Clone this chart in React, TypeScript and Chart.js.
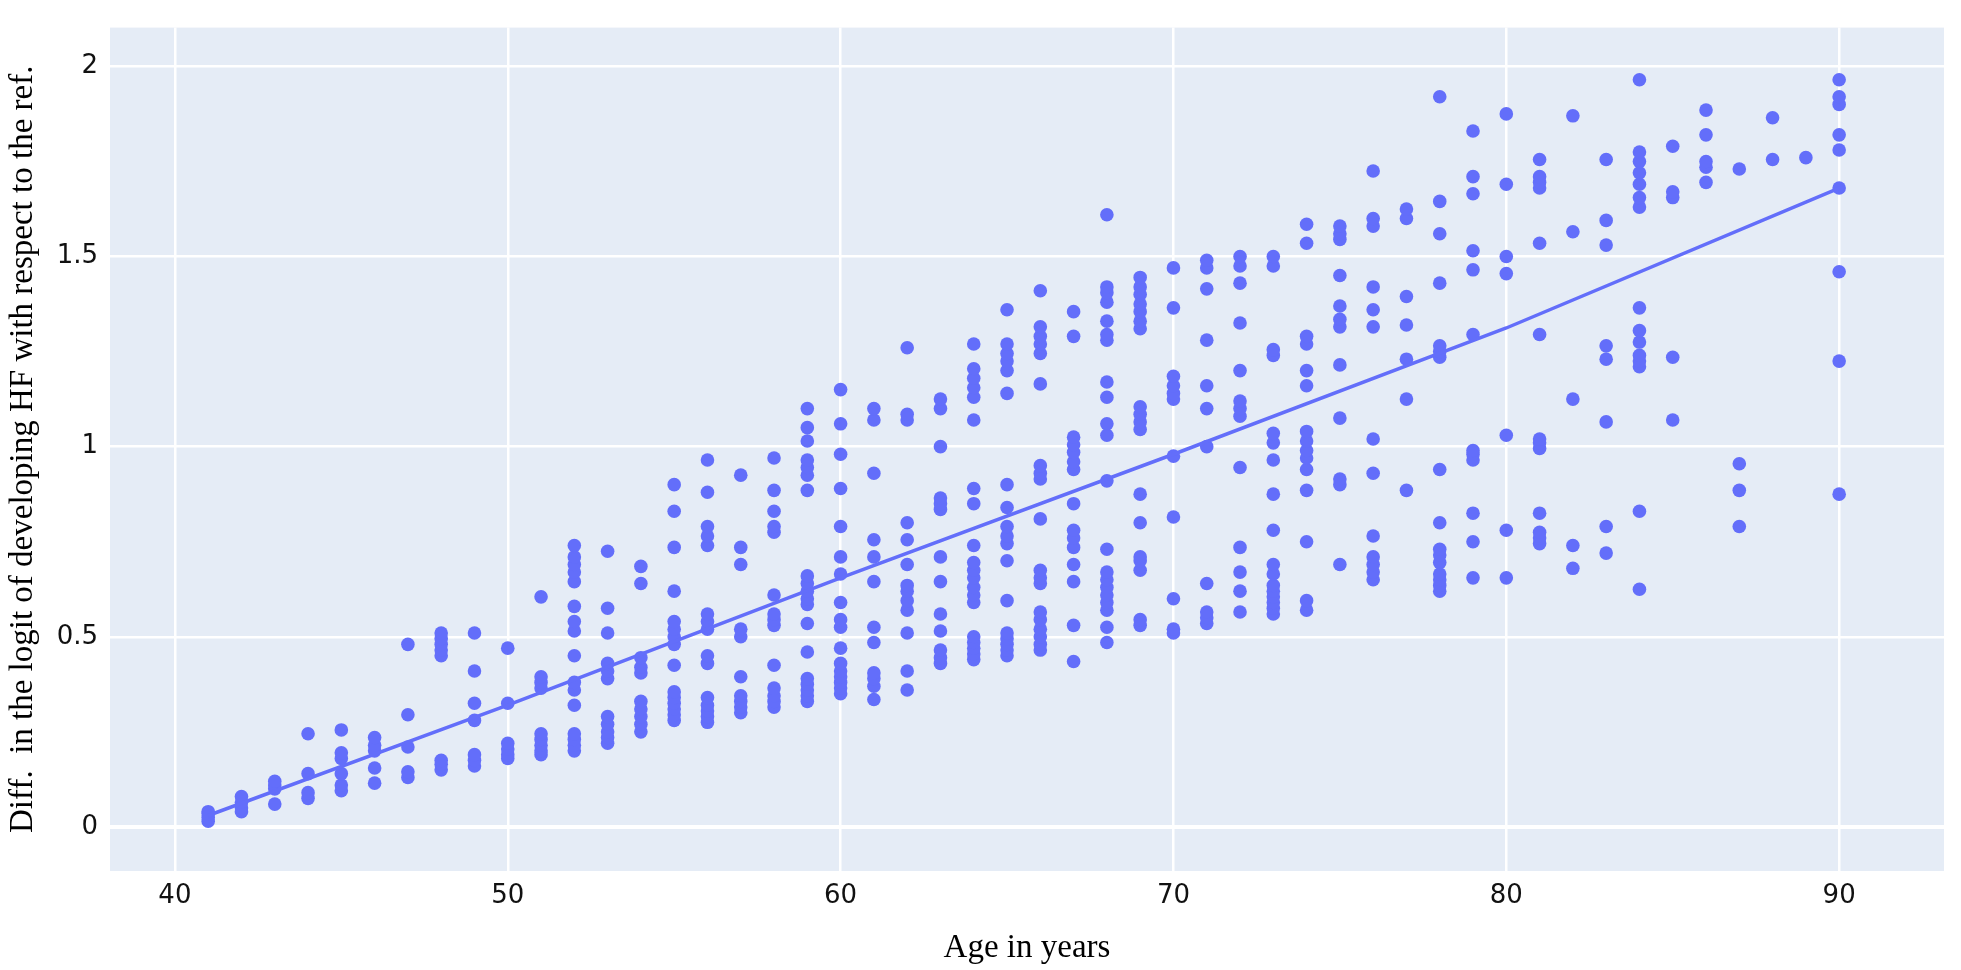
import React, { useEffect, useRef } from "react";
import { Chart, registerables } from "chart.js";

Chart.register(...registerables);

const ages: number[] = [
  41, 42, 43, 44, 45, 46, 47, 48, 49, 50, 51, 52, 53, 54, 55, 56, 57, 58, 59, 60, 61, 62, 63, 64, 65,
  66, 67, 68, 69, 70, 71, 72, 73, 74, 75, 76, 77, 78, 79, 80, 81, 82, 83, 84, 85, 86, 87, 88, 89, 90,
];

const valuesByAge: number[][] = [
  [0.015, 0.025, 0.035, 0.04],
  [0.04, 0.05, 0.065, 0.08],
  [0.06, 0.1, 0.11, 0.12],
  [0.075, 0.09, 0.14, 0.245],
  [0.095, 0.11, 0.14, 0.18, 0.195, 0.255],
  [0.115, 0.155, 0.2, 0.215, 0.235],
  [0.13, 0.145, 0.21, 0.295, 0.48],
  [0.15, 0.165, 0.175, 0.45, 0.465, 0.48, 0.495, 0.51],
  [0.16, 0.175, 0.19, 0.28, 0.325, 0.41, 0.51],
  [0.18, 0.19, 0.205, 0.22, 0.325, 0.47],
  [0.19, 0.2, 0.215, 0.23, 0.245, 0.365, 0.38, 0.395, 0.605],
  [0.2, 0.215, 0.23, 0.245, 0.32, 0.36, 0.38, 0.45, 0.515, 0.54, 0.58, 0.645, 0.67, 0.69, 0.71, 0.74],
  [0.22, 0.235, 0.25, 0.27, 0.29, 0.39, 0.41, 0.43, 0.51, 0.575, 0.725],
  [0.25, 0.27, 0.29, 0.31, 0.33, 0.405, 0.42, 0.445, 0.64, 0.685],
  [0.28, 0.295, 0.31, 0.325, 0.34, 0.355, 0.425, 0.48, 0.5, 0.52, 0.54, 0.62, 0.735, 0.83, 0.9],
  [0.275, 0.29, 0.305, 0.32, 0.34, 0.43, 0.45, 0.52, 0.54, 0.56, 0.74, 0.765, 0.79, 0.88, 0.965],
  [0.3, 0.315, 0.33, 0.345, 0.395, 0.5, 0.52, 0.69, 0.735, 0.925],
  [0.315, 0.33, 0.345, 0.365, 0.425, 0.53, 0.545, 0.56, 0.61, 0.775, 0.79, 0.83, 0.885, 0.97],
  [0.33, 0.345, 0.36, 0.375, 0.39, 0.46, 0.535, 0.585, 0.6, 0.62, 0.64, 0.66, 0.885, 0.925, 0.945, 0.965, 1.015, 1.05, 1.1],
  [0.35, 0.365, 0.38, 0.395, 0.41, 0.43, 0.47, 0.525, 0.545, 0.59, 0.665, 0.71, 0.79, 0.89, 0.98, 1.06, 1.15],
  [0.335, 0.37, 0.39, 0.405, 0.485, 0.525, 0.645, 0.71, 0.755, 0.93, 1.07, 1.1],
  [0.36, 0.41, 0.51, 0.57, 0.595, 0.62, 0.635, 0.69, 0.755, 0.8, 1.07, 1.085, 1.26],
  [0.43, 0.445, 0.465, 0.515, 0.56, 0.645, 0.71, 0.835, 0.85, 0.865, 1.0, 1.1, 1.125],
  [0.44, 0.455, 0.47, 0.485, 0.5, 0.59, 0.61, 0.63, 0.655, 0.675, 0.695, 0.74, 0.85, 0.89, 1.07, 1.13, 1.155, 1.18, 1.205, 1.27],
  [0.45, 0.465, 0.48, 0.495, 0.51, 0.595, 0.7, 0.745, 0.765, 0.79, 0.84, 0.9, 1.14, 1.2, 1.225, 1.245, 1.27, 1.36],
  [0.465, 0.48, 0.5, 0.52, 0.545, 0.565, 0.64, 0.655, 0.675, 0.81, 0.915, 0.93, 0.95, 1.165, 1.245, 1.27, 1.29, 1.315, 1.41],
  [0.435, 0.53, 0.645, 0.69, 0.735, 0.76, 0.78, 0.85, 0.94, 0.96, 0.985, 1.005, 1.025, 1.29, 1.355],
  [0.485, 0.525, 0.57, 0.59, 0.61, 0.63, 0.65, 0.67, 0.73, 0.91, 1.03, 1.06, 1.13, 1.17, 1.28, 1.295, 1.33, 1.38, 1.405, 1.42, 1.61],
  [0.53, 0.545, 0.675, 0.7, 0.71, 0.8, 0.875, 1.045, 1.065, 1.085, 1.105, 1.31, 1.33, 1.355, 1.375, 1.4, 1.42, 1.445],
  [0.51, 0.52, 0.6, 0.815, 0.975, 1.125, 1.14, 1.16, 1.185, 1.365, 1.47],
  [0.535, 0.55, 0.565, 0.64, 1.0, 1.1, 1.16, 1.28, 1.415, 1.47, 1.49],
  [0.565, 0.62, 0.67, 0.735, 0.945, 1.08, 1.1, 1.12, 1.2, 1.325, 1.43, 1.475, 1.5],
  [0.56, 0.575, 0.59, 0.605, 0.62, 0.635, 0.665, 0.69, 0.78, 0.875, 0.965, 1.01, 1.035, 1.24, 1.255, 1.475, 1.5],
  [0.57, 0.595, 0.75, 0.885, 0.94, 0.97, 0.99, 1.015, 1.04, 1.16, 1.2, 1.27, 1.29, 1.535, 1.585],
  [0.69, 0.9, 0.915, 1.075, 1.215, 1.315, 1.335, 1.37, 1.45, 1.545, 1.56, 1.58],
  [0.65, 0.67, 0.69, 0.71, 0.765, 0.93, 1.02, 1.315, 1.36, 1.42, 1.58, 1.6, 1.725],
  [0.885, 1.125, 1.23, 1.32, 1.395, 1.6, 1.625],
  [0.62, 0.635, 0.65, 0.665, 0.695, 0.715, 0.73, 0.8, 0.94, 1.235, 1.25, 1.265, 1.43, 1.56, 1.645, 1.92],
  [0.655, 0.75, 0.825, 0.965, 0.98, 0.99, 1.295, 1.465, 1.515, 1.665, 1.71, 1.83],
  [0.655, 0.78, 1.03, 1.455, 1.5, 1.69, 1.875],
  [0.745, 0.76, 0.775, 0.825, 0.995, 1.01, 1.02, 1.295, 1.535, 1.68, 1.695, 1.71, 1.755],
  [0.68, 0.74, 1.125, 1.565, 1.87],
  [0.72, 0.79, 1.065, 1.23, 1.265, 1.53, 1.595, 1.755],
  [0.625, 0.83, 1.21, 1.225, 1.24, 1.275, 1.305, 1.365, 1.63, 1.655, 1.69, 1.72, 1.75, 1.775, 1.965],
  [1.07, 1.235, 1.655, 1.67, 1.79],
  [1.695, 1.735, 1.75, 1.82, 1.885],
  [0.79, 0.885, 0.955, 1.73],
  [1.755, 1.865],
  [1.76],
  [0.875, 1.225, 1.46, 1.68, 1.78, 1.82, 1.9, 1.92, 1.965],
];

const trendAges: number[] = [41, 50, 60, 70, 80, 90];
const trendValues: number[] = [0.03, 0.32, 0.655, 0.98, 1.312, 1.68];

const xTicks: number[] = [40, 50, 60, 70, 80, 90];
const yTicks: number[] = [0, 0.5, 1, 1.5, 2];

const xTitle = "Age in years";
const yTitle = "Diff.  in the logit of developing HF with respect to the ref.";

const MARKER = "#636EFA";

export default function App() {
  const canvasRef = useRef<HTMLCanvasElement | null>(null);

  useEffect(() => {
    if (!canvasRef.current) return;

    const scatterData: { x: number; y: number }[] = [];
    ages.forEach((a, i) => {
      valuesByAge[i].forEach((v) => scatterData.push({ x: a, y: v }));
    });
    const trendData = trendAges.map((a, i) => ({ x: a, y: trendValues[i] }));

    const bgPlugin = {
      id: "plotBg",
      beforeDraw(chart: any) {
        const { ctx, chartArea } = chart;
        if (!chartArea) return;
        ctx.save();
        ctx.fillStyle = "#E5ECF6";
        ctx.fillRect(chartArea.left, chartArea.top, chartArea.right - chartArea.left, chartArea.bottom - chartArea.top);
        ctx.restore();
      },
    };

    const tickFont = { family: "'DejaVu Sans', sans-serif", size: 26 };
    const titleFont = { family: "'Liberation Serif', 'Times New Roman', serif", size: 33 };

    const chart = new Chart(canvasRef.current, {
      type: "scatter",
      data: {
        datasets: [
          {
            label: "trend",
            data: trendData,
            showLine: true,
            borderColor: MARKER,
            borderWidth: 3.5,
            pointRadius: 0,
            fill: false,
            order: 0,
          } as any,
          {
            label: "points",
            data: scatterData,
            backgroundColor: MARKER,
            borderColor: MARKER,
            borderWidth: 0,
            pointRadius: 6.8,
            order: 1,
          } as any,
        ],
      },
      options: {
        animation: false,
        responsive: true,
        maintainAspectRatio: false,
        devicePixelRatio: 1,
        layout: { padding: { top: 12, right: 17, left: 0, bottom: 0 } },
        plugins: {
          legend: { display: false },
          tooltip: { enabled: false },
        },
        scales: {
          x: {
            type: "linear",
            min: 38.05,
            max: 93.15,
            afterBuildTicks: (scale: any) => {
              scale.ticks = xTicks.map((v) => ({ value: v }));
            },
            afterFit: (scale: any) => {
              scale.height = 99;
            },
            ticks: {
              font: tickFont,
              color: "#111",
              padding: 10,
              maxRotation: 0,
              callback: (v: any) => String(v),
            },
            grid: {
              color: "#ffffff",
              lineWidth: 2.5,
              drawTicks: false,
            },
            border: { display: false },
            title: {
              display: true,
              text: xTitle,
              font: titleFont,
              color: "#000",
              padding: { top: 0, bottom: 2 },
            },
          },
          y: {
            type: "linear",
            min: -0.116,
            max: 2.102,
            afterBuildTicks: (scale: any) => {
              scale.ticks = yTicks.map((v) => ({ value: v }));
            },
            afterFit: (scale: any) => {
              scale.width = 110;
            },
            ticks: {
              font: tickFont,
              color: "#111",
              padding: 12,
              callback: (v: any) => String(v),
            },
            grid: {
              color: "#ffffff",
              lineWidth: (ctx: any) => (ctx.tick && ctx.tick.value === 0 ? 4 : 2.5),
              drawTicks: false,
            },
            border: { display: false },
            title: {
              display: true,
              text: yTitle,
              font: titleFont,
              color: "#000",
              padding: { top: 4, bottom: 0 },
            },
          },
        },
      },
      plugins: [bgPlugin],
    });

    return () => chart.destroy();
  }, []);

  return (
    <div style={{ position: "fixed", left: 0, top: 0, width: "1961px", height: "970px", background: "#fff" }}>
      <canvas ref={canvasRef} />
    </div>
  );
}
